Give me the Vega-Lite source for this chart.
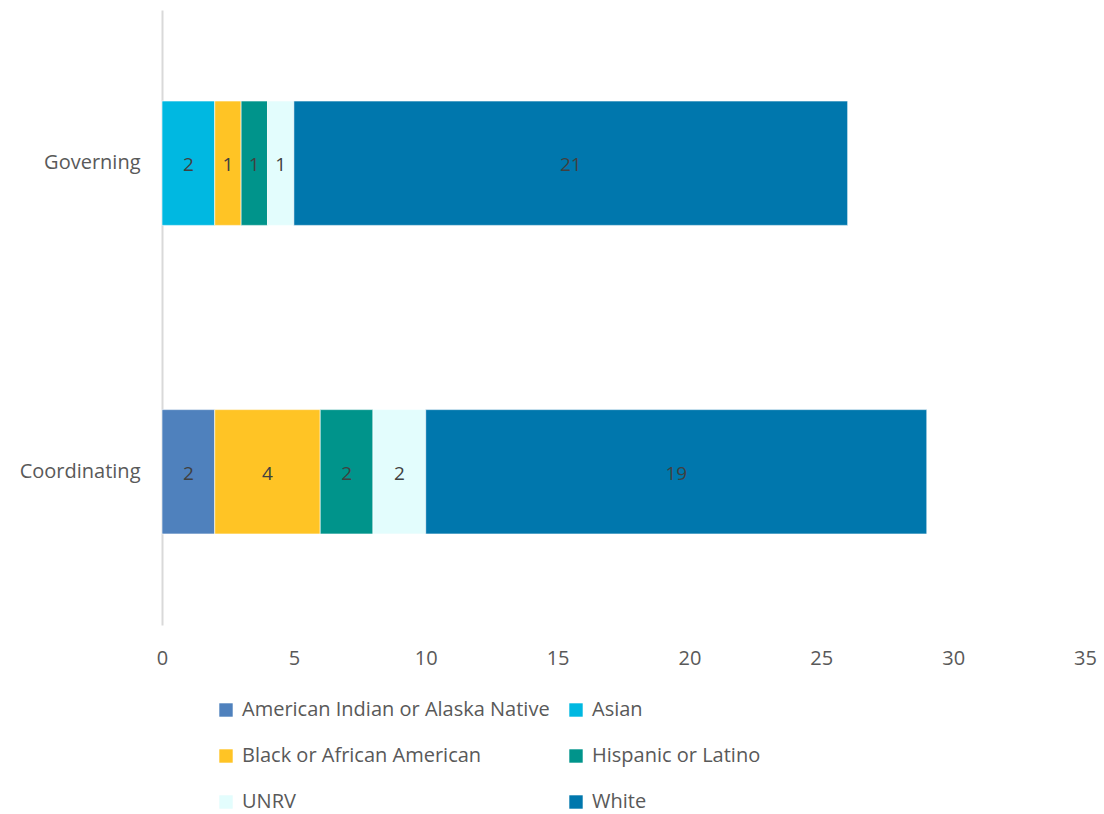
{
  "$schema": "https://vega.github.io/schema/vega-lite/v6.json",
  "autosize": {"type": "none"},
  "width": 923,
  "height": 615,
  "padding": {"left": 162, "top": 10, "right": 19, "bottom": 189},
  "config": {
    "font": "Open Sans",
    "view": {"stroke": null},
    "axis": {"labelFont": "Open Sans", "labelColor": "#595959", "labelFontSize": 20}
  },
  "data": {
    "values": [
      {"group": "Governing", "race": "Asian", "count": 2},
      {"group": "Governing", "race": "Black or African American", "count": 1},
      {"group": "Governing", "race": "Hispanic or Latino", "count": 1},
      {"group": "Governing", "race": "UNRV", "count": 1},
      {"group": "Governing", "race": "White", "count": 21},
      {"group": "Coordinating", "race": "American Indian or Alaska Native", "count": 2},
      {"group": "Coordinating", "race": "Black or African American", "count": 4},
      {"group": "Coordinating", "race": "Hispanic or Latino", "count": 2},
      {"group": "Coordinating", "race": "UNRV", "count": 2},
      {"group": "Coordinating", "race": "White", "count": 19}
    ]
  },
  "transform": [
    {"stack": "count", "groupby": ["group"], "sort": [{"field": "race", "order": "ascending"}], "as": ["x0", "x1"]},
    {"calculate": "(datum.x0 + datum.x1) / 2", "as": "xmid"}
  ],
  "encoding": {
    "y": {
      "field": "group",
      "type": "nominal",
      "sort": ["Governing", "Coordinating"],
      "scale": {"paddingInner": 0.597, "paddingOuter": 0.295},
      "axis": {
        "title": null,
        "ticks": false,
        "domainColor": "#d9d9d9",
        "domainWidth": 2,
        "labelPadding": 22
      }
    }
  },
  "layer": [
    {
      "mark": {"type": "bar", "stroke": "#ffffff", "strokeWidth": 0.6},
      "encoding": {
        "x": {
          "field": "x0",
          "type": "quantitative",
          "scale": {"domain": [0, 35], "nice": false},
          "axis": {
            "title": null,
            "values": [0, 5, 10, 15, 20, 25, 30, 35],
            "grid": false,
            "domain": false,
            "ticks": false,
            "labelFlush": false,
            "labelPadding": 23
          }
        },
        "x2": {"field": "x1"},
        "color": {
          "field": "race",
          "type": "nominal",
          "scale": {
            "domain": ["American Indian or Alaska Native", "Asian", "Black or African American", "Hispanic or Latino", "UNRV", "White"],
            "range": ["#4f81bd", "#00b8e1", "#ffc425", "#00948b", "#e3fdfd", "#0077ad"]
          },
          "legend": {
            "title": null,
            "orient": "none",
            "legendX": 54,
            "legendY": 690,
            "columns": 2,
            "direction": "horizontal",
            "symbolType": "square",
            "symbolSize": 180,
            "symbolStrokeWidth": 0,
            "labelFont": "Open Sans",
            "labelFontSize": 20,
            "labelColor": "#595959",
            "labelLimit": 400,
            "labelOffset": 6,
            "rowPadding": 26,
            "columnPadding": 16
          }
        }
      }
    },
    {
      "mark": {"type": "text", "fontSize": 19, "color": "#404040", "font": "Open Sans", "dy": 2},
      "encoding": {
        "x": {"field": "xmid", "type": "quantitative"},
        "text": {"field": "count", "type": "quantitative"}
      }
    }
  ]
}
